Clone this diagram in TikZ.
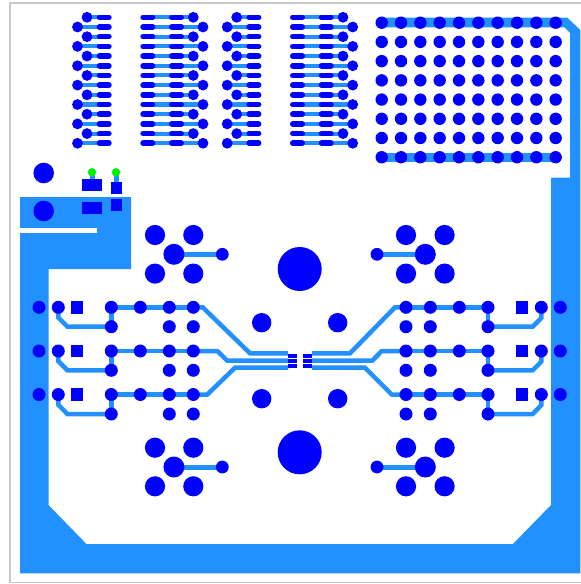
\documentclass[tikz,border=0pt]{standalone}
\definecolor{cu}{HTML}{2290FF}
\definecolor{via}{HTML}{0000FF}
\definecolor{frame}{HTML}{C8C8C8}
\definecolor{led}{HTML}{00F000}
\tikzset{
  trace/.style={draw=cu,line width=4.5pt,line join=miter},
  thintrace/.style={draw=cu,line width=4.1pt},
  padline/.style={draw=via,line width=5.6pt,line cap=round},
  copper/.style={fill=cu,draw=none},
  viafill/.style={fill=via,draw=none}
}
\begin{document}
\begin{tikzpicture}[x=1pt,y=-1pt]
\useasboundingbox (0,0) rectangle (581,584);
\fill[white] (0,0) rectangle (581,584);
\draw[frame,line width=1.8pt] (10,3) rectangle (582,582.5);
% copper pour
\fill[copper] (20,197) -- (131,197) -- (131,269) -- (48.5,269) -- (48.5,505) -- (86.4,544) -- (513,544) -- (551,505) -- (551,177.5) -- (570,177.5) -- (570,33) -- (564.5,27.3) -- (382,27.3) -- (382,17.7) -- (567.3,17.7) -- (580.4,30) -- (580.4,573.3) -- (20,573.3) -- cycle;
\fill[white] (20,228) rectangle (96.7,232.7);
\fill[copper] (382,152.8) rectangle (556,162.4);
% header strips
\foreach \r in {0,...,13}{
  \pgfmathsetmacro{\yy}{17.3+9.69*\r}
  \pgfmathtruncatemacro{\odd}{mod(\r,2)}
  \foreach \dx in {0,149.7}{
    \pgfmathsetmacro{\va}{\odd==0 ? 87+\dx : 77.5+\dx}
    \pgfmathsetmacro{\vb}{\odd==0 ? 193.3+\dx : 203+\dx}
    \draw[thintrace] (\va,\yy) -- (99+\dx,\yy);
    \draw[thintrace] (143+\dx,\yy) -- (\vb,\yy);
    \draw[padline] (99.5+\dx,\yy) -- (108.9+\dx,\yy);
    \draw[padline] (143.1+\dx,\yy) -- (152.5+\dx,\yy);
    \draw[padline] (171.8+\dx,\yy) -- (181.2+\dx,\yy);
    \fill[viafill] (\va,\yy) circle (5.4);
    \fill[viafill] (\vb,\yy) circle (5.4);
  }
}
% via array
\foreach \c in {0,...,9}{
  \foreach \r in {0,...,7}{
    \fill[viafill] ({381.7+19.33*\c},{22.7+19.22*\r}) circle (6.2);
  }
}
% upper-left parts
\fill[viafill] (43.7,173) circle (10.3);
\fill[viafill] (43.7,211) circle (10.3);
\draw[cu,line width=5pt] (92,172.3) -- (92,182);
\draw[cu,line width=5pt] (116,172.3) -- (116,184);
\fill[led] (92,172.3) circle (4.2);
\fill[led] (116,172.3) circle (4.2);
\fill[viafill] (82.3,179) rectangle (102,191.3);
\fill[viafill] (111,182) rectangle (122,194);
\fill[viafill] (82.3,202) rectangle (102,214);
\fill[viafill] (111,199) rectangle (122,211.3);
% connector clusters
\foreach \cx/\cy/\sx/\ax/\bx in {173.9/254.3/222.3/155/193.3, 425.3/254.3/377/406/444.6, 173.9/467/222.3/155/193.3, 425.3/467/377/406/444.6}{
  \draw[cu,line width=5pt] (\cx,\cy) -- (\sx,\cy);
  \fill[viafill] (\cx,\cy) circle (10.5);
  \fill[viafill] (\sx,\cy) circle (6.4);
  \foreach \xx in {\ax,\bx}{
    \fill[viafill] (\xx,\cy-19.3) circle (10.1);
    \fill[viafill] (\xx,\cy+19.3) circle (10.1);
  }
}
% mounting holes
\fill[viafill] (299.7,269) circle (22);
\fill[viafill] (299.7,452.3) circle (22);
\foreach \xx in {261.7,337.7}{
  \foreach \yy in {322.7,398.7}{
    \fill[viafill] (\xx,\yy) circle (9.7);
  }
}
% fan-out traces
\draw[trace] (193.3,307.3) -- (202.7,307.3) -- (250,353.3) -- (288,353.3);
\draw[trace] (193.3,351) -- (217.3,351) -- (227.3,360.7) -- (288,360.7);
\draw[trace] (193.3,394.5) -- (207.3,394.5) -- (235,367.7) -- (288,367.7);
\draw[trace] (406,307.3) -- (395,307.3) -- (350,353.3) -- (312,353.3);
\draw[trace] (406,351) -- (381.7,351) -- (372.3,360.7) -- (312,360.7);
\draw[trace] (406,394.5) -- (391.7,394.5) -- (365,367.7) -- (312,367.7);
% channel rows
\foreach \yy/\yb in {307.3/326.7, 351/370.3, 394.5/414}{
  \draw[trace] (111.3,\yy) -- (193.3,\yy);
  \draw[trace] (111.3,\yy) -- (111.3,\yb);
  \draw[trace] (58.3,\yy) -- (58.3,\yy+10.2) -- (67.4,\yb) -- (111.3,\yb);
  \draw[trace] (406,\yy) -- (488,\yy);
  \draw[trace] (488,\yy) -- (488,\yb);
  \draw[trace] (541.3,\yy) -- (541.3,\yy+10.7) -- (532.7,\yb) -- (488,\yb);
  \foreach \xx in {39,58.3,111.3,140.3,169.3,193.3,406,430.3,459.3,488,541.3,560.3}{
    \fill[viafill] (\xx,\yy) circle (6.5);
  }
  \foreach \xx in {111.3,169.3,193.3,406,430.3,488}{
    \fill[viafill] (\xx,\yb) circle (6.5);
  }
  \fill[viafill] (70.8,\yy-6.3) rectangle (83.3,\yy+6.3);
  \fill[viafill] (516,\yy-6.3) rectangle (528.4,\yy+6.3);
}
% chip pads
\foreach \xx in {288,302.7}{
  \fill[viafill] (\xx,354) rectangle (\xx+9,358.3);
  \fill[viafill] (\xx,358.8) rectangle (\xx+9,363.2);
  \fill[viafill] (\xx,363.6) rectangle (\xx+9,368);
}
\end{tikzpicture}
\end{document}
